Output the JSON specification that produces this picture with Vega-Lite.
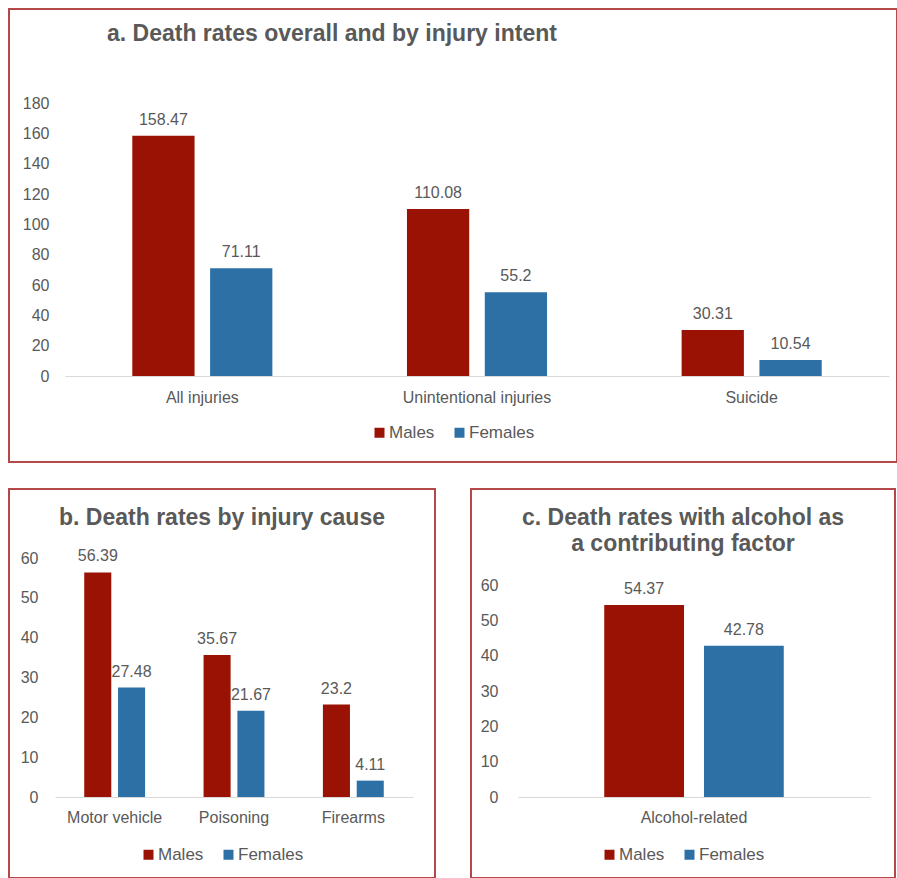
{
  "$schema": "https://vega.github.io/schema/vega-lite/v6.json",
  "padding": {"left": 8, "top": 8, "right": 0, "bottom": 0},
  "background": "white",
  "config": {
    "font": "Liberation Sans",
    "view": {"stroke": "#B5494A", "strokeWidth": 2, "fill": "white"},
    "axis": {"labelFont": "Liberation Sans", "labelFontSize": 16, "labelColor": "#595959", "ticks": false, "grid": false, "title": null},
    "legend": {"labelFont": "Liberation Sans", "labelFontSize": 17, "labelColor": "#595959", "symbolType": "square", "symbolSize": 100, "symbolStrokeWidth": 0, "labelOffset": 1, "columnPadding": 16, "layout": {"bottom": {"anchor": "middle"}}},
    "title": {"font": "Liberation Sans", "fontSize": 23, "fontWeight": "bold", "color": "#595959"}
  },
  "resolve": {"scale": {"color": "independent", "x": "independent", "y": "independent", "xOffset": "independent"}, "legend": {"color": "independent"}},
  "spacing": 25,
  "vconcat": [
    {
      "width": 888,
      "height": 453,
      "title": {"text": "a. Death rates overall and by injury intent", "anchor": "start", "frame": "group", "dx": 98, "offset": -55, "baseline": "alphabetic"},
      "data": {"values": [
        {"category": "All injuries", "sex": "Males", "value": 158.47},
        {"category": "All injuries", "sex": "Females", "value": 71.11},
        {"category": "Unintentional injuries", "sex": "Males", "value": 110.08},
        {"category": "Unintentional injuries", "sex": "Females", "value": 55.2},
        {"category": "Suicide", "sex": "Males", "value": 30.31},
        {"category": "Suicide", "sex": "Females", "value": 10.54}
      ]},
      "encoding": {
        "x": {"field": "category", "type": "nominal", "sort": ["All injuries", "Unintentional injuries", "Suicide"],
              "scale": {"range": [56, 880], "paddingInner": 0.49, "paddingOuter": 0.245},
              "axis": {"orient": "bottom", "offset": -86, "labelAngle": 0, "labelPadding": 13, "domainColor": "#D9D9D9", "domainWidth": 1}},
        "xOffset": {"field": "sex", "type": "nominal", "scale": {"domain": ["Males", "Females"], "paddingInner": 0.2, "paddingOuter": 0}},
        "y": {"field": "value", "type": "quantitative", "scale": {"domain": [0, 180], "range": [367, 94], "nice": false},
              "axis": {"values": [0, 20, 40, 60, 80, 100, 120, 140, 160, 180], "offset": -56, "labelPadding": 16, "domain": false}}
      },
      "layer": [
        {"mark": {"type": "bar"},
         "encoding": {"color": {"field": "sex", "type": "nominal", "scale": {"domain": ["Males", "Females"], "range": ["#9A1204", "#2C70A5"]},
                                "legend": {"title": null, "orient": "bottom", "direction": "horizontal", "offset": -38}}}},
        {"mark": {"type": "text", "baseline": "bottom", "dy": -8, "fontSize": 16, "color": "#595959"},
         "encoding": {"text": {"field": "value", "type": "quantitative", "format": ""}}}
      ]
    },
    {
      "resolve": {"scale": {"color": "independent", "x": "independent", "y": "independent", "xOffset": "independent"}, "legend": {"color": "independent"}},
      "spacing": 34,
      "hconcat": [
        {
          "width": 426,
          "height": 389,
          "title": {"text": "b. Death rates by injury cause", "anchor": "middle", "frame": "group", "offset": -59, "baseline": "alphabetic"},
          "data": {"values": [
            {"category": "Motor vehicle", "sex": "Males", "value": 56.39},
            {"category": "Motor vehicle", "sex": "Females", "value": 27.48},
            {"category": "Poisoning", "sex": "Males", "value": 35.67},
            {"category": "Poisoning", "sex": "Females", "value": 21.67},
            {"category": "Firearms", "sex": "Males", "value": 23.2},
            {"category": "Firearms", "sex": "Females", "value": 4.11}
          ]},
          "encoding": {
            "x": {"field": "category", "type": "nominal", "sort": ["Motor vehicle", "Poisoning", "Firearms"],
                  "scale": {"range": [46, 404], "paddingInner": 0.49, "paddingOuter": 0.245},
                  "axis": {"orient": "bottom", "offset": -81, "labelAngle": 0, "labelPadding": 12, "domainColor": "#D9D9D9", "domainWidth": 1}},
            "xOffset": {"field": "sex", "type": "nominal", "scale": {"domain": ["Males", "Females"], "paddingInner": 0.2, "paddingOuter": 0}},
            "y": {"field": "value", "type": "quantitative", "scale": {"domain": [0, 60], "range": [308, 69], "nice": false},
                  "axis": {"values": [0, 10, 20, 30, 40, 50, 60], "offset": -46, "labelPadding": 17, "domain": false}}
          },
          "layer": [
            {"mark": {"type": "bar"},
             "encoding": {"color": {"field": "sex", "type": "nominal", "scale": {"domain": ["Males", "Females"], "range": ["#9A1204", "#2C70A5"]},
                                    "legend": {"title": null, "orient": "bottom", "direction": "horizontal", "offset": -32}}}},
            {"mark": {"type": "text", "baseline": "bottom", "dy": -8, "fontSize": 16, "color": "#595959"},
             "encoding": {"text": {"field": "value", "type": "quantitative", "format": ""}}}
          ]
        },
        {
          "width": 424,
          "height": 389,
          "title": {"text": ["c. Death rates with alcohol as", "a contributing factor"], "anchor": "middle", "frame": "group", "offset": -85, "baseline": "alphabetic", "lineHeight": 26},
          "data": {"values": [
            {"category": "Alcohol-related", "sex": "Males", "value": 54.37},
            {"category": "Alcohol-related", "sex": "Females", "value": 42.78}
          ]},
          "encoding": {
            "x": {"field": "category", "type": "nominal",
                  "scale": {"range": [47, 399], "paddingInner": 0.49, "paddingOuter": 0.245},
                  "axis": {"orient": "bottom", "offset": -81, "labelAngle": 0, "labelPadding": 12, "domainColor": "#D9D9D9", "domainWidth": 1}},
            "xOffset": {"field": "sex", "type": "nominal", "scale": {"domain": ["Males", "Females"], "paddingInner": 0.2, "paddingOuter": 0}},
            "y": {"field": "value", "type": "quantitative", "scale": {"domain": [0, 60], "range": [308, 96], "nice": false},
                  "axis": {"values": [0, 10, 20, 30, 40, 50, 60], "offset": -47, "labelPadding": 20, "domain": false}}
          },
          "layer": [
            {"mark": {"type": "bar"},
             "encoding": {"color": {"field": "sex", "type": "nominal", "scale": {"domain": ["Males", "Females"], "range": ["#9A1204", "#2C70A5"]},
                                    "legend": {"title": null, "orient": "bottom", "direction": "horizontal", "offset": -32}}}},
            {"mark": {"type": "text", "baseline": "bottom", "dy": -8, "fontSize": 16, "color": "#595959"},
             "encoding": {"text": {"field": "value", "type": "quantitative", "format": ""}}}
          ]
        }
      ]
    }
  ]
}
